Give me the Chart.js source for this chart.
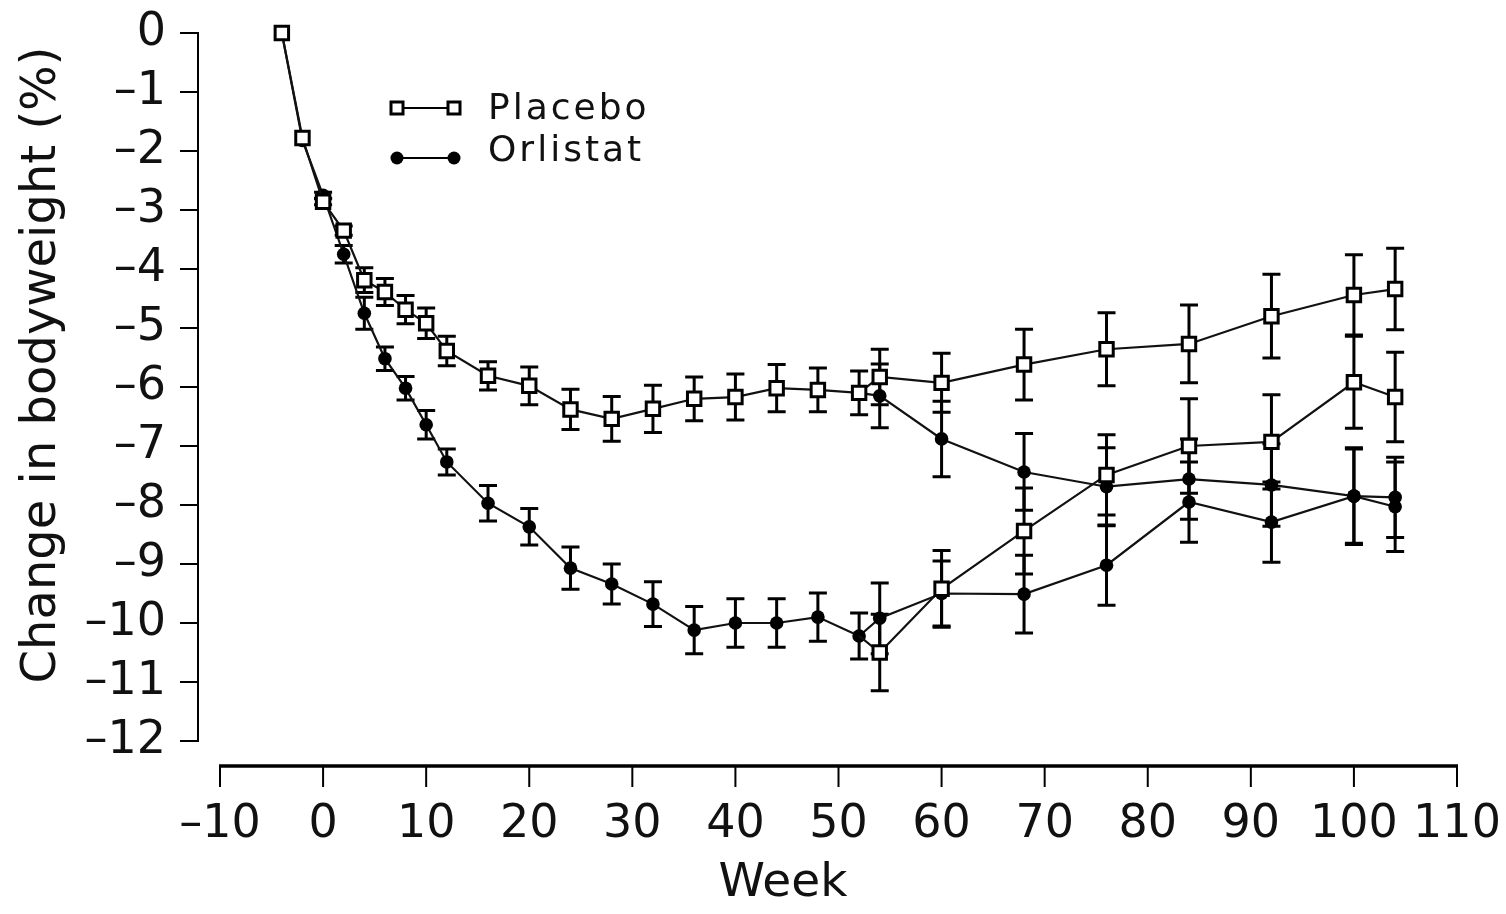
<!DOCTYPE html>
<html lang="en">
<head>
<meta charset="UTF-8">
<title>Change in bodyweight</title>
<style>
  html, body { margin: 0; padding: 0; background: #fff; }
  #chart { display: block; }
</style>
<script src="https://cdn.jsdelivr.net/npm/chart.js"></script>
</head>
<body>
<canvas id="chart" width="1506" height="914"></canvas>
<script>
// year 1 (lead-in + first 52 weeks)
const weeksYear1 = [-4, -2, 0, 2, 4, 6, 8, 10, 12, 16, 20, 24, 28, 32, 36, 40, 44, 48, 52];
const placeboYear1 = [0, -1.78, -2.86, -3.35, -4.19, -4.39, -4.69, -4.92, -5.39, -5.81, -5.98, -6.38, -6.54, -6.37, -6.2, -6.17, -6.02, -6.05, -6.1];
const placeboYear1Err = [0, 0, 0.05, 0.08, 0.21, 0.23, 0.24, 0.26, 0.25, 0.24, 0.32, 0.34, 0.38, 0.4, 0.37, 0.39, 0.4, 0.37, 0.37];
const orlistatYear1 = [0, -1.82, -2.75, -3.75, -4.75, -5.52, -6.02, -6.64, -7.27, -7.97, -8.37, -9.07, -9.34, -9.68, -10.12, -10.0, -10.0, -9.9, -10.22];
const orlistatYear1Err = [0, 0, 0.05, 0.15, 0.27, 0.2, 0.2, 0.24, 0.22, 0.3, 0.31, 0.36, 0.34, 0.38, 0.4, 0.41, 0.41, 0.41, 0.39];

// year 2 (re-randomised at week 52; first point is the week 52 value)
const weeksYear2 = [52, 54, 60, 68, 76, 84, 92, 100, 104];
const placeboPlacebo = [-6.1, -5.83, -5.93, -5.62, -5.36, -5.27, -4.8, -4.44, -4.34];
const placeboPlaceboErr = [null, 0.47, 0.5, 0.6, 0.62, 0.66, 0.71, 0.68, 0.69];
const placeboOrlistat = [-6.1, -6.15, -6.88, -7.44, -7.69, -7.56, -7.66, -7.85, -7.87];
const placeboOrlistatErr = [null, 0.54, 0.64, 0.65, 0.66, 0.68, 0.7, 0.82, 0.68];
const orlistatPlacebo = [-10.22, -10.5, -9.42, -8.44, -7.49, -7.0, -6.93, -5.92, -6.17];
const orlistatPlaceboErr = [null, 0.65, 0.65, 0.73, 0.68, 0.8, 0.8, 0.78, 0.76];
const orlistatOrlistat = [-10.22, -9.92, -9.5, -9.51, -9.02, -7.95, -8.29, -7.85, -8.03];
const orlistatOrlistatErr = [null, 0.6, 0.55, 0.66, 0.68, 0.68, 0.68, 0.8, 0.76];

const xTicks = [-10, 0, 10, 20, 30, 40, 50, 60, 70, 80, 90, 100, 110];
const yTicks = [0, -1, -2, -3, -4, -5, -6, -7, -8, -9, -10, -11, -12];
const legendLabels = ['Placebo', 'Orlistat'];
const xTitle = 'Week';
const yTitle = 'Change in bodyweight (%)';

const FONT = 'DejaVu Sans';
const INK = '#111';

function pts(xs, ys) {
    return xs.map((x, i) => ({ x: x, y: ys[i] }));
}

function fmt(v) {
    return v < 0 ? '\u2013' + Math.abs(v) : String(v);
}

function squareSet(xs, ys, errs, skipFirst) {
    return {
        data: pts(xs, ys),
        errorBars: errs,
        borderColor: INK,
        borderWidth: 2.2,
        pointStyle: 'rect',
        pointRadius: xs.map((x, i) => (skipFirst && i === 0) ? 0 : 9.5),
        pointBorderWidth: 3,
        pointBorderColor: '#000',
        pointBackgroundColor: '#fff',
        clip: false
    };
}

function circleSet(xs, ys, errs, skipFirst) {
    return {
        data: pts(xs, ys),
        errorBars: errs,
        borderColor: INK,
        borderWidth: 2.2,
        pointStyle: 'circle',
        pointRadius: xs.map((x, i) => (skipFirst && i === 0) ? 0 : 6.8),
        pointBorderWidth: 0,
        pointBackgroundColor: '#000',
        clip: false
    };
}

// error bars with caps, drawn under the markers
const errorBarPlugin = {
    id: 'errorBars',
    beforeDatasetsDraw(chart) {
        const ctx = chart.ctx;
        const yScale = chart.scales.y;
        ctx.save();
        ctx.strokeStyle = '#000';
        ctx.lineWidth = 3;
        chart.data.datasets.forEach((ds, i) => {
            const meta = chart.getDatasetMeta(i);
            (ds.errorBars || []).forEach((e, j) => {
                if (!e) return;
                const x = meta.data[j].x;
                const v = ds.data[j].y;
                const top = yScale.getPixelForValue(v + e);
                const bot = yScale.getPixelForValue(v - e);
                ctx.beginPath();
                ctx.moveTo(x, top); ctx.lineTo(x, bot);
                ctx.moveTo(x - 9, top); ctx.lineTo(x + 9, top);
                ctx.moveTo(x - 9, bot); ctx.lineTo(x + 9, bot);
                ctx.stroke();
            });
        });
        ctx.restore();
    }
};

// detached axis lines with outside tick marks, plus the axis titles
const axesPlugin = {
    id: 'detachedAxes',
    afterDraw(chart) {
        const ctx = chart.ctx;
        const xs = chart.scales.x, ys = chart.scales.y;
        const area = chart.chartArea;
        const ax = area.left - 22;
        const ay = area.bottom + 25;
        ctx.save();
        ctx.strokeStyle = '#000';
        ctx.lineWidth = 2;
        ctx.beginPath();
        ctx.moveTo(ax, ys.getPixelForValue(yTicks[0]) - 1);
        ctx.lineTo(ax, ys.getPixelForValue(yTicks[yTicks.length - 1]) + 1);
        yTicks.forEach(t => {
            const y = ys.getPixelForValue(t);
            ctx.moveTo(ax - 18, y); ctx.lineTo(ax, y);
        });
        ctx.stroke();
        ctx.beginPath();
        xTicks.forEach(t => {
            const x = xs.getPixelForValue(t);
            ctx.moveTo(x, ay); ctx.lineTo(x, ay + 21);
        });
        ctx.stroke();
        ctx.lineWidth = 3.5;
        ctx.beginPath();
        ctx.moveTo(xs.getPixelForValue(xTicks[0]) - 1, ay);
        ctx.lineTo(xs.getPixelForValue(xTicks[xTicks.length - 1]) + 1, ay);
        ctx.stroke();

        ctx.fillStyle = INK;
        ctx.textAlign = 'center';
        ctx.textBaseline = 'middle';
        ctx.font = '47px "' + FONT + '"';
        ctx.fillText(xTitle, area.left + 563, area.bottom + 143);
        ctx.font = '48px "' + FONT + '"';
        ctx.translate(area.left - 177, area.top + 332);
        ctx.rotate(-Math.PI / 2);
        ctx.fillText(yTitle, 0, 0);
        ctx.restore();
    }
};

// legend: marker-line-marker followed by the label
const legendPlugin = {
    id: 'pairLegend',
    afterDraw(chart) {
        const ctx = chart.ctx;
        const area = chart.chartArea;
        const x0 = area.left + 177, x1 = area.left + 234;
        const rows = [area.top + 75, area.top + 125];
        ctx.save();
        ctx.strokeStyle = '#000';
        ctx.fillStyle = '#000';
        rows.forEach((y, i) => {
            ctx.lineWidth = 2;
            ctx.beginPath();
            ctx.moveTo(x0, y); ctx.lineTo(x1, y);
            ctx.stroke();
            [x0, x1].forEach(x => {
                if (i === 0) {
                    ctx.fillStyle = '#fff';
                    ctx.lineWidth = 3;
                    ctx.fillRect(x - 6, y - 6, 12, 12);
                    ctx.strokeRect(x - 6, y - 6, 12, 12);
                } else {
                    ctx.fillStyle = '#000';
                    ctx.beginPath();
                    ctx.arc(x, y, 6.5, 0, Math.PI * 2);
                    ctx.fill();
                }
            });
        });
        ctx.fillStyle = INK;
        ctx.font = '36px "' + FONT + '"';
        ctx.letterSpacing = '3px';
        ctx.textAlign = 'left';
        ctx.textBaseline = 'alphabetic';
        ctx.fillText(legendLabels[0], area.left + 268, area.top + 86);
        ctx.fillText(legendLabels[1], area.left + 268, area.top + 128);
        ctx.restore();
    }
};

Chart.defaults.font.family = FONT;
Chart.defaults.color = INK;

new Chart(document.getElementById('chart'), {
    type: 'line',
    data: {
        datasets: [
            squareSet(weeksYear1, placeboYear1, placeboYear1Err, false),
            squareSet(weeksYear2, placeboPlacebo, placeboPlaceboErr, true),
            squareSet(weeksYear2, orlistatPlacebo, orlistatPlaceboErr, true),
            circleSet(weeksYear1, orlistatYear1, orlistatYear1Err, false),
            circleSet(weeksYear2, placeboOrlistat, placeboOrlistatErr, true),
            circleSet(weeksYear2, orlistatOrlistat, orlistatOrlistatErr, true)
        ]
    },
    options: {
        responsive: false,
        animation: false,
        events: [],
        layout: { padding: { left: 0, right: 49, top: 33, bottom: 0 } },
        plugins: {
            legend: { display: false },
            tooltip: { enabled: false }
        },
        scales: {
            x: {
                type: 'linear',
                min: -10,
                max: 110,
                afterFit: s => {
                    s.height = 173;
                    s.paddingLeft = 0;
                    s.paddingRight = 0;
                },
                afterBuildTicks: s => { s.ticks = xTicks.map(v => ({ value: v })); },
                grid: { display: false, drawTicks: false },
                border: { display: false },
                ticks: {
                    font: { size: 46 },
                    padding: 56,
                    maxRotation: 0,
                    autoSkip: false,
                    callback: v => fmt(v)
                },
                title: { display: false }
            },
            y: {
                type: 'linear',
                min: -12,
                max: 0,
                afterFit: s => {
                    s.width = 220;
                    s.paddingTop = 0;
                    s.paddingBottom = 0;
                },
                afterBuildTicks: s => { s.ticks = yTicks.map(v => ({ value: v })); },
                grid: { display: false, drawTicks: false },
                border: { display: false },
                ticks: {
                    font: { size: 46 },
                    padding: 54,
                    autoSkip: false,
                    callback: v => fmt(v)
                },
                title: { display: false }
            }
        }
    },
    plugins: [errorBarPlugin, axesPlugin, legendPlugin]
});
</script>
</body>
</html>
